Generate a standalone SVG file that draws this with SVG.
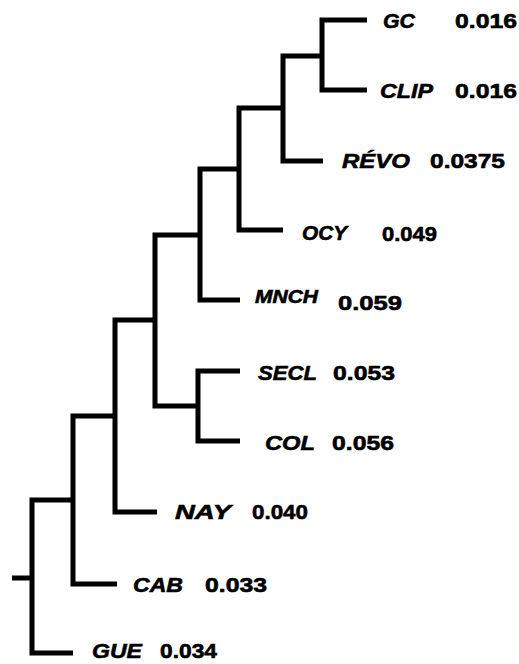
<svg xmlns="http://www.w3.org/2000/svg" width="519" height="664" viewBox="0 0 519 664">
<style>
.br{fill:none;stroke:#000;stroke-width:5;stroke-linejoin:miter;stroke-linecap:butt}
.lb{font-family:"Liberation Sans",Arial,sans-serif;font-weight:bold;font-style:italic;font-size:21px;fill:#000;stroke:#000;stroke-width:0.6}
.nm{font-family:"Liberation Sans",Arial,sans-serif;font-weight:bold;font-size:21px;fill:#000;stroke:#000;stroke-width:0.6}
</style>
<rect width="519" height="664" fill="#fff"/>
<g id="connectors">
<path class="br" d="M367 20 H322 V90 H367"/>
<path class="br" d="M322 56 H283 V161 H323"/>
<path class="br" d="M283 108 H239 V230 H283"/>
<path class="br" d="M239 169 H200 V300 H240"/>
<path class="br" d="M240 371 H198 V441 H240"/>
<path class="br" d="M200 235 H155 V406 H198"/>
<path class="br" d="M155 320 H115 V512 H157"/>
<path class="br" d="M115 416 H73 V584 H117"/>
<path class="br" d="M73 500 H32 V653 H73"/>
<path class="br" d="M12 578 H32"/>
</g>
<g id="GC"><text class="lb" x="383" y="28" textLength="32" lengthAdjust="spacingAndGlyphs">GC</text><text class="nm" x="455" y="28" textLength="62" lengthAdjust="spacingAndGlyphs">0.016</text></g>
<g id="CLIP"><text class="lb" x="380" y="98" textLength="53" lengthAdjust="spacingAndGlyphs">CLIP</text><text class="nm" x="455" y="98" textLength="62" lengthAdjust="spacingAndGlyphs">0.016</text></g>
<g id="REVO"><text class="lb" x="342" y="168" textLength="68" lengthAdjust="spacingAndGlyphs">RÉVO</text><text class="nm" x="430" y="168" textLength="75" lengthAdjust="spacingAndGlyphs">0.0375</text></g>
<g id="OCY"><text class="lb" x="302" y="240" textLength="45" lengthAdjust="spacingAndGlyphs">OCY</text><text class="nm" x="382" y="241" textLength="55" lengthAdjust="spacingAndGlyphs">0.049</text></g>
<g id="MNCH"><text class="lb" x="255" y="303" textLength="63" lengthAdjust="spacingAndGlyphs" style="font-size:18px">MNCH</text><text class="nm" x="338" y="310" textLength="64" lengthAdjust="spacingAndGlyphs">0.059</text></g>
<g id="SECL"><text class="lb" x="258" y="380" textLength="59" lengthAdjust="spacingAndGlyphs">SECL</text><text class="nm" x="333" y="380" textLength="62" lengthAdjust="spacingAndGlyphs">0.053</text></g>
<g id="COL"><text class="lb" x="265" y="450" textLength="50" lengthAdjust="spacingAndGlyphs">COL</text><text class="nm" x="332" y="450" textLength="62" lengthAdjust="spacingAndGlyphs">0.056</text></g>
<g id="NAY"><text class="lb" x="175" y="519" textLength="56" lengthAdjust="spacingAndGlyphs">NAY</text><text class="nm" x="252" y="519" textLength="56" lengthAdjust="spacingAndGlyphs">0.040</text></g>
<g id="CAB"><text class="lb" x="133" y="592" textLength="50" lengthAdjust="spacingAndGlyphs">CAB</text><text class="nm" x="205" y="592" textLength="62" lengthAdjust="spacingAndGlyphs">0.033</text></g>
<g id="GUE"><text class="lb" x="92" y="658" textLength="50" lengthAdjust="spacingAndGlyphs">GUE</text><text class="nm" x="160" y="658" textLength="57" lengthAdjust="spacingAndGlyphs">0.034</text></g>
</svg>
